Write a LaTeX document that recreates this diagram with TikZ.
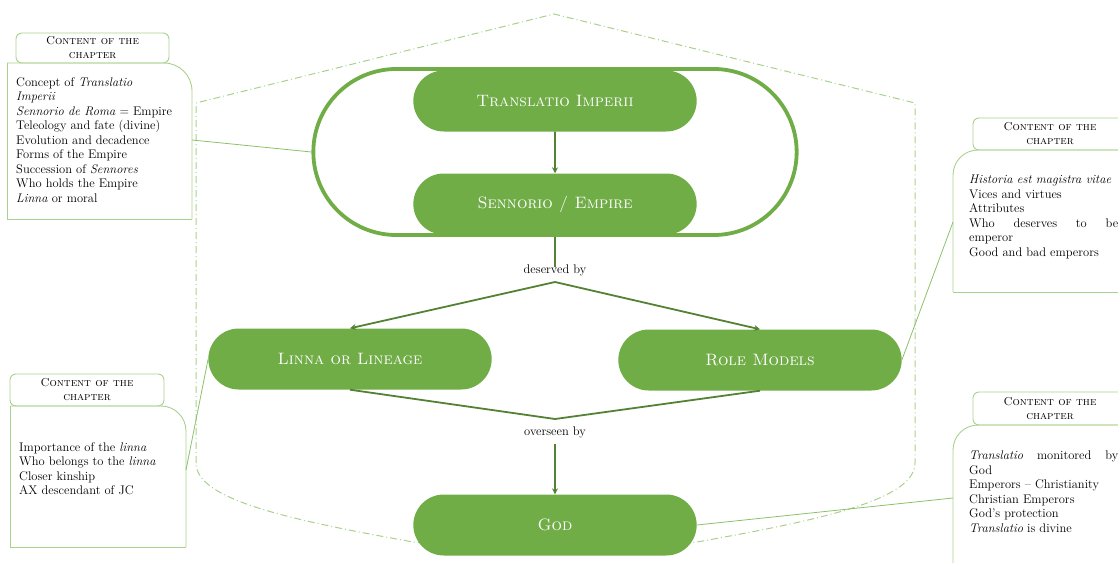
\documentclass[tikz,border=0pt]{standalone}
\usetikzlibrary{arrows.meta,shapes.misc}
\definecolor{pillgreen}{HTML}{70AD47}
\definecolor{darkgreen}{HTML}{548235}
\definecolor{lightgreen}{HTML}{A9D18E}
\definecolor{linkgreen}{HTML}{8CC168}
\begin{document}
\begin{tikzpicture}[x=1pt,y=-1pt,
  pill/.style={rounded rectangle, fill=pillgreen, minimum width=290pt, minimum height=61pt, text=white, font=\fontsize{16.5}{18}\selectfont\scshape},
  frameshape/.style={rounded rectangle, draw=pillgreen, line width=3.8pt, minimum width=490pt, minimum height=166pt},
  arr/.style={draw=darkgreen, line width=1.8pt, -{Stealth[length=6pt,width=6pt]}},
  conn/.style={draw=darkgreen, line width=1.8pt},
  lab/.style={inner sep=1pt, font=\fontsize{12.5}{14}\selectfont},
  link/.style={draw=linkgreen, line width=0.8pt},
  boxline/.style={draw=lightgreen, line width=0.9pt},
  hdr/.style={draw=lightgreen, line width=0.9pt, rounded corners=6pt, align=center, font=\fontsize{11.5}{14}\selectfont\scshape, inner sep=0pt},
  bodytext/.style={anchor=north west, inner sep=0pt, align=left, font=\fontsize{12.5}{14.5}\selectfont},
  outline/.style={draw=lightgreen, line width=1pt, dash pattern=on 7pt off 3pt on 1pt off 3pt}
]
\useasboundingbox (0,0) rectangle (1118,562);
\clip (0,0) rectangle (1118,562);

% dash-dot outline
\draw[outline] (196,463) -- (196,103) -- (554,14) -- (915,103) -- (915,463)
  .. controls (915,500) and (820,520) .. (697,542)
  .. controls (640,550) and (470,550) .. (413,542)
  .. controls (291,520) and (196,500) .. (196,463);

% frame
\node[frameshape] (fr) at (555,152) {};

% pills
\node[pill] (ti) at (555,101) {Translatio Imperii};
\node[pill] (se) at (555,204) {Sennorio / Empire};
\node[pill] (li) at (350,359) {Linna or Lineage};
\node[pill] (rm) at (760,360) {Role Models};
\node[pill] (god) at (555,525) {God};

% labels
\node[lab] (db) at (555,270) {deserved by};
\node[lab] (ob) at (555,432) {overseen by};
\coordinate (f1) at (555,282);
\coordinate (f2) at (555,419);

% connectors
\draw[arr] (ti) -- (se);
\draw[conn] (fr.south) -- ([yshift=-4pt]db.north);
\draw[arr] (f1) -- (li.north);
\draw[arr] (f1) -- (rm.north);
\draw[conn] (li.south) -- (f2) -- (rm.south);
\draw[arr, shorten <=5pt] (ob.south) -- (god.north);

% callout boxes
\node[hdr, minimum width=153pt, minimum height=30pt] (h1) at (92.5,48) {Content of the\\chapter};
\draw[boxline, rounded corners=28pt] (7,63) -- (192,63) -- (192,219);
\draw[boxline] (192,219) -- (7,219) -- (7,63);
\node[bodytext] (t1) at (16,77) {Concept of \textit{Translatio}\\
\textit{Imperii}\\
\textit{Sennorio de Roma} = Empire\\
Teleology and fate (divine)\\
Evolution and decadence\\
Forms of the Empire\\
Succession of \textit{Sennores}\\
Who holds the Empire\\
\textit{Linna} or moral};
\coordinate (b1) at (192,140);

\node[hdr, minimum width=154pt, minimum height=32pt] (h2) at (1050,134) {Content of the\\chapter};
\draw[boxline, rounded corners=25pt] (1130,150) -- (953,150) -- (953,292);
\draw[boxline] (953,292) -- (1130,292);
\node[bodytext] (t2) at (969,175) {\textit{Historia est magistra vitae}\\
Vices and virtues\\
Attributes\\
\makebox[149pt][s]{Who deserves to be}\\
emperor\\
Good and bad emperors};
\coordinate (b2) at (953,222);

\node[hdr, minimum width=154pt, minimum height=32pt] (h3) at (87,390) {Content of the\\chapter};
\draw[boxline, rounded corners=25pt] (10,406) -- (186,406) -- (186,547);
\draw[boxline] (186,547) -- (10,547) -- (10,406);
\node[bodytext] (t3) at (19,442) {Importance of the \textit{linna}\\
Who belongs to the \textit{linna}\\
Closer kinship\\
AX descendant of JC};
\coordinate (b3) at (186,470);

\node[hdr, minimum width=154pt, minimum height=33pt] (h4) at (1050,408.5) {Content of the\\chapter};
\draw[boxline, rounded corners=25pt] (1130,425) -- (953,425) -- (953,575);
\node[bodytext] (t4) at (969,451) {\makebox[149pt][s]{\textit{Translatio} monitored by}\\
God\\
Emperors -- Christianity\\
Christian Emperors\\
God's protection\\
\textit{Translatio} is divine};
\coordinate (b4) at (953,498);

% callout links
\draw[link] (b1) -- (fr.west);
\draw[link] (li.west) -- (b3);
\draw[link] (rm.east) -- (b2);
\draw[link] (god.east) -- (b4);
\end{tikzpicture}
\end{document}
